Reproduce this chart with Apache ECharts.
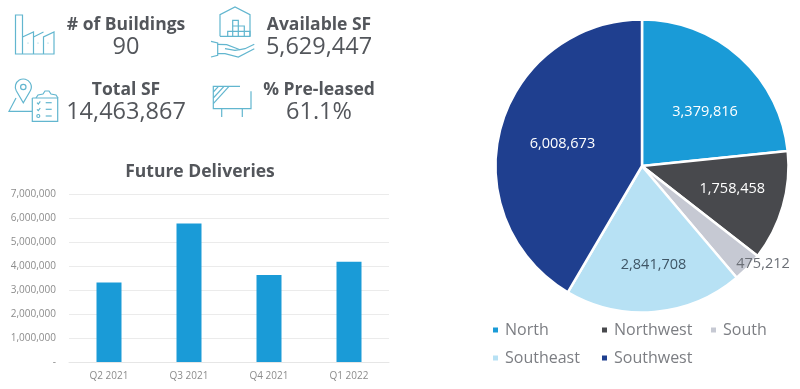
<!DOCTYPE html>
<html><head><meta charset="utf-8">
<style>html,body{margin:0;padding:0;background:#fff}#c{width:800px;height:389px}</style>
<script src="https://cdn.jsdelivr.net/npm/echarts@6/dist/echarts.min.js"></script>
</head><body><div id="c"></div>
<script>
const quarters = ['Q2 2021','Q3 2021','Q4 2021','Q1 2022'];
const deliveries = [3320000,5790000,3640000,4190000];
const regions = ['North','Northwest','South','Southeast','Southwest'];
const regionSF = [3379816,1758458,475212,2841708,6008673];
const regionColors = ['#1a9bd7','#48494d','#c6c9d3','#b7e1f4','#1f3f8f'];
const labelColors = ['#ffffff','#ffffff','#6b6f76','#3f5666','#ffffff'];
const labelShift = [[12,2],[17,2],[66,45],[5,23],[-6,-2]];
const stats = [
  {label:'# of Buildings', value:'90', x:126, yl:24, yv:46},
  {label:'Available SF', value:'5,629,447', x:319, yl:24, yv:46},
  {label:'Total SF', value:'14,463,867', x:126, yl:89, yv:111},
  {label:'% Pre-leased', value:'61.1%', x:319, yl:89, yv:111}
];
const fmt = v => v === 0 ? '-' : v.toLocaleString('en-US');
const FONT = '"Open Sans", sans-serif';
const ICON = '#62b6cf';
const line = (pts, w) => ({type:'polyline', shape:{points:pts}, style:{stroke:ICON, lineWidth:w||1.2, fill:null}, silent:true});
const circ = (cx,cy,r) => ({type:'circle', shape:{cx,cy,r}, style:{stroke:ICON, lineWidth:1.2, fill:null}, silent:true});
const dot = (x,y) => ({type:'circle', shape:{cx:x,cy:y,r:0.5}, style:{fill:ICON}, silent:true});
const icons = [
  // factory
  line([[22.5,54],[22.5,15],[15.5,15],[15.5,54],[54,54],[54,32],[43.5,37],[43.5,54]]),
  line([[22.5,37],[33.5,32],[33.5,54]]), line([[33.5,37],[43.5,32]]),
  dot(28,43), dot(38,43), dot(48,43),
  // available SF: house, boxes, hand
  line([[220,36.3],[220,14.7],[235,7],[250,14.7],[250,36.3],[220,36.3]]),
  line([[227.7,36.3],[227.7,31.3],[244.3,31.3]]),
  line([[232.7,36.3],[232.7,20.3],[238.3,20.3],[238.3,36.3]]),
  line([[232.7,26],[244.3,26],[244.3,36.3]]),
  line([[250,36.3],[250,31.3],[244.3,31.3]]),
  line([[211,41.3],[217.7,43],[217.7,55.3],[211,57]]),
  line([[217.7,44.3],[226.7,44.7],[240,49.7],[245,48.7],[254.3,44.3]]),
  line([[225,48.7],[235,50.3],[240,49.7]]),
  line([[217.7,53.7],[225,53.7],[238.3,57],[254.3,48.7]]),
  // total SF: pin, map, clipboard
  {type:'arc', shape:{cx:23.3,cy:87,r:8,startAngle:Math.PI*5/6,endAngle:Math.PI/6,clockwise:true}, style:{stroke:ICON,lineWidth:1.2,fill:null}, silent:true},
  line([[16.4,91],[23.3,102.7],[30.2,91]]),
  circ(23.3,87,2.7),
  line([[16,98],[9,111.3],[32,111.3]]),
  line([[32.3,98],[57.7,98],[57.7,121.3],[32.3,121.3],[32.3,98]]),
  line([[36,98],[38,95],[43,94],[45,91],[49,91],[51,94],[56,95],[58,98]]),
  line([[45.7,102.7],[51.7,102.7]]), line([[45.7,109.3],[51.7,109.3]]), line([[45.7,116],[51.7,116]]),
  line([[37,102.7],[38.3,104],[40.3,101.3]]), line([[37,109.3],[38.3,110.6],[40.3,108]]),
  circ(38.3,116,1.5),
  // pre-leased: billboard
  line([[240,86.3],[213.3,86.3],[213.3,108.7],[251,108.7],[251,91.3]]),
  line([[221.7,108.7],[221.7,117]]), line([[242.3,108.7],[242.3,117]]),
  line([[213.3,103.7],[229,86.3]]), line([[213.3,92],[218.5,86.3]]), line([[213.3,98],[224,86.3]])
];
const statText = [];
stats.forEach(s => {
  statText.push({type:'text', x:s.x, y:s.yl+1, style:{text:s.label, font:'bold 17.5px '+FONT, fill:'#53565b', align:'center', verticalAlign:'middle'}});
  statText.push({type:'text', x:s.x, y:s.yv+1, style:{text:s.value, font:'23.5px '+FONT, fill:'#53565b', align:'center', verticalAlign:'middle'}});
});
const legendBase = {orient:'vertical', itemWidth:7, itemHeight:7, itemGap:12, icon:'rect',
  textStyle:{fontFamily:FONT, fontSize:16, color:'#7c7e83', padding:[0,0,0,1]}, padding:0, selectedMode:false};
const chart = echarts.init(document.getElementById('c'));
chart.setOption({
  animation:false,
  backgroundColor:'#fff',
  title:{text:'Future Deliveries', left:200, top:163, textAlign:'center',
    textStyle:{fontFamily:FONT, fontWeight:'bold', fontSize:17.5, color:'#53565b'}, padding:0},
  grid:{left:69, top:194.5, width:320, height:167.5},
  xAxis:{type:'category', data:quarters, axisTick:{show:false},
    axisLine:{lineStyle:{color:'#e6e6e6', width:1}},
    axisLabel:{fontFamily:FONT, fontSize:10, color:'#8c8c8c', margin:9}},
  yAxis:{type:'value', min:0, max:7000000, interval:1000000,
    axisLine:{show:false}, axisTick:{show:false},
    splitLine:{lineStyle:{color:'#ebebeb', width:1}},
    axisLabel:{fontFamily:FONT, fontSize:10, color:'#8c8c8c', margin:13, formatter:fmt}},
  legend:[
    {...legendBase, left:491, top:322, data:[regions[0],regions[3]]},
    {...legendBase, left:600, top:322, data:[regions[1],regions[4]]},
    {...legendBase, left:709, top:322, data:[regions[2]]}
  ],
  series:[
    {type:'bar', data:deliveries, barWidth:25, itemStyle:{color:'#1a9bd7'}, silent:true},
    {type:'pie', center:[642,166], radius:[0,146.5], startAngle:90, clockwise:true, silent:true,
     avoidLabelOverlap:false,
     data:regions.map((n,i)=>({name:n, value:regionSF[i],
       itemStyle:{color:regionColors[i]},
       label:{color:labelColors[i], offset:labelShift[i]}})),
     itemStyle:{borderColor:'#fff', borderWidth:2.5},
     label:{show:true, position:'inside', fontFamily:FONT, fontSize:14.5,
       formatter:p=>p.value.toLocaleString('en-US')},
     labelLine:{show:false}}
  ],
  graphic:[...icons, ...statText]
});
</script></body></html>
